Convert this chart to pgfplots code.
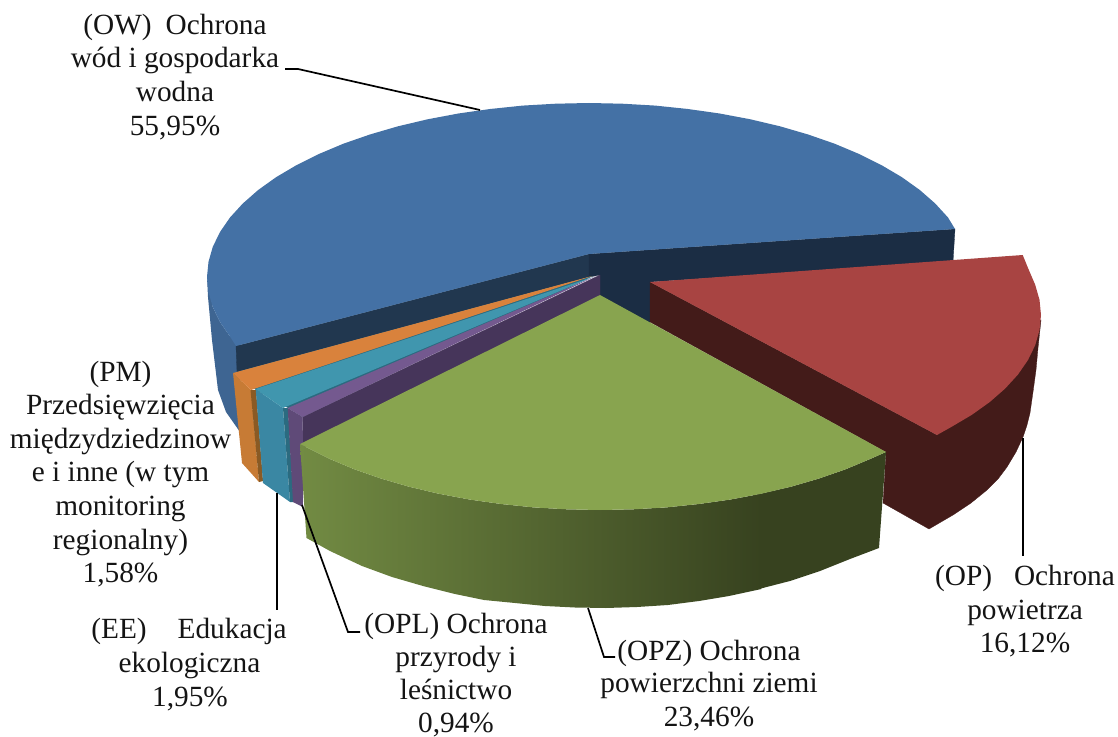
\documentclass[border=0pt]{standalone}
\usepackage{pgfplots}
\pgfplotsset{compat=1.18}
\usepackage{fontspec}
\setmainfont{Liberation Serif}
\definecolor{bluetop}{HTML}{4471A5}
\definecolor{bluewall}{HTML}{3E6592}
\definecolor{bluedk}{HTML}{21374F}
\definecolor{bluedkb}{HTML}{1B2D44}
\definecolor{redtop}{HTML}{A84442}
\definecolor{redwall}{HTML}{431B19}
\definecolor{greentop}{HTML}{88A44F}
\definecolor{greenL}{HTML}{728B43}
\definecolor{greenR}{HTML}{37421F}
\definecolor{ortop}{HTML}{D9823C}
\definecolor{orwall}{HTML}{C77B35}
\definecolor{ordk}{HTML}{8A5A24}
\definecolor{teatop}{HTML}{4096AE}
\definecolor{teawall}{HTML}{3A87A3}
\definecolor{teadk}{HTML}{2B6B80}
\definecolor{putop}{HTML}{74598F}
\definecolor{puwall}{HTML}{5F4A78}
\definecolor{pudk}{HTML}{46355A}
\newcommand\lab[3]{\node[anchor=base,inner sep=0pt,text=black!92,font=\fontsize{29.3}{33}\selectfont] at (axis cs:#1,#2) {#3};}
\begin{document}
\begin{tikzpicture}
\begin{axis}[width=1118pt,height=736pt,scale only axis,axis lines=none,
  xmin=0,xmax=1118,ymin=0,ymax=736,y dir=reverse,clip=false,no markers]
% page extent
\addplot[draw=none] coordinates {(0,0)(1118,0)(1118,736)(0,736)};
% blue outer wall
\addplot[fill=bluewall,draw=none] coordinates {(207,277)(208,297)(212,340)(218,390)(226,412)(240,432)(240,340)(230,336.5)(220,322)(212.8,307.2)} -- cycle;
% blue inner walls
\addplot[fill=bluedk,draw=bluedk,line width=0.3pt] coordinates {(236,346)(589,254)(589,277)(237,372)} -- cycle;
\addplot[fill=bluedkb,draw=bluedkb,line width=0.3pt] coordinates {(589,254)(955,229)(953,262)(650,282)(650,324)(600,297)(600,275)(589,277)} -- cycle;
% blue top
\addplot[fill=bluetop,draw=none] coordinates {(236,346)(230,336.5)(220,322)(212.8,307.2)(208.5,292.2)(207,277)(208.5,261.8)(212.8,246.8)(220,232)(230,217.5)(242.8,203.5)(258.2,190)(276.1,177.2)(296.4,165.2)(318.9,154)(343.4,143.7)(369.9,134.5)(398,126.3)(427.6,119.3)(458.4,113.5)(490.1,109)(522.7,105.6)(555.7,103.7)(589,103)(622.3,103.7)(655.3,105.6)(687.9,109)(719.6,113.5)(750.4,119.3)(780,126.3)(808.1,134.5)(834.6,143.7)(859.1,154)(881.6,165.2)(901.9,177.2)(919.8,190)(935.2,203.5)(948,217.5)(955,229)(589,254)} -- cycle;
% red wall
\addplot[fill=redwall,draw=redwall,line width=0.3pt] coordinates {(650,282)(650,322)(886,452)(883,503)(929,529)(941,522)(953,515)(971,503)(987,490)(998,479)(1007,467)(1016,452)(1023,437)(1027,425)(1030,413)(1033,392)(1036,370)(1038,348)(1041,320)(937,435)} -- cycle;
% red top
\addplot[fill=redtop,draw=none] coordinates {(650,282)(1022.7,255)(1028,268)(1035.2,284.8)(1039.5,299.8)(1041,315)(1039.5,330.2)(1035.2,345.2)(1028,360)(1018,374.5)(1005.2,388.5)(989.8,402)(971.9,414.8)(951.6,426.8)(937,435)} -- cycle;
% base under the narrow wedges
\addplot[fill=teadk,draw=none] coordinates {(233,373)(593,276)(302.7,417)(288,408)(256,390)} -- cycle;
% orange
\addplot[fill=orwall,draw=none] coordinates {(233,373)(251,390)(259,482)(242,463)} -- cycle;
\addplot[fill=ordk,draw=none] coordinates {(250.5,390)(256,390)(263,481)(259,482)} -- cycle;
\addplot[fill=ortop,draw=none] coordinates {(233,373)(592,276)(251,390)} -- cycle;
% teal
\addplot[fill=teawall,draw=none] coordinates {(255.7,389)(283,408)(290,502)(263,483)} -- cycle;
\addplot[fill=teadk,draw=none] coordinates {(283,408)(288,408)(293.5,502)(290,502)} -- cycle;
\addplot[fill=teatop,draw=none] coordinates {(255.7,389)(593,277)(283,408)} -- cycle;
% purple
\addplot[fill=pudk,draw=pudk,line width=0.3pt] coordinates {(302.7,417)(600,275)(600,300)(303,448)} -- cycle;
\addplot[fill=puwall,draw=none] coordinates {(287.7,408)(302.7,417)(303,507)(293,502)} -- cycle;
\addplot[fill=putop,draw=none] coordinates {(287.7,408)(596,276)(302.7,417)} -- cycle;
% green wall
\addplot[fill=greenR,draw=none] coordinates {(755,495)(791,486.7)(819.1,478.5)(845.6,469.3)(870.1,459)(886,452)(879,548)(850,559)(820,571)(790,581)(755,590)} -- cycle;
\addplot[left color=greenL,right color=greenR,draw=none] coordinates {(300,444)(307.4,447.8)(329.9,459)(354.4,469.3)(380.9,478.5)(409,486.7)(438.6,493.7)(469.4,499.5)(501.1,504)(533.7,507.4)(566.7,509.3)(600,510)(633.3,509.3)(666.3,507.4)(698.9,504)(730.6,499.5)(761.4,493.7)(761.4,589)(729,596)(699,601)(668,605)(637,607)(606,608)(575,607.5)(545,606)(515,603)(484,600)(455,594)(423,586)(392,577)(362,566)(330,551)(306.5,538)} -- cycle;
% green top
\addplot[fill=greentop,draw=none] coordinates {(600,295)(886,452)(870.1,459)(845.6,469.3)(819.1,478.5)(791,486.7)(761.4,493.7)(730.6,499.5)(698.9,504)(666.3,507.4)(633.3,509.3)(600,510)(566.7,509.3)(533.7,507.4)(501.1,504)(469.4,499.5)(438.6,493.7)(409,486.7)(380.9,478.5)(354.4,469.3)(329.9,459)(307.4,447.8)(300,444)} -- cycle;
% leader lines
\addplot[black,line width=1.7pt] coordinates {(285,69)(298,69)(480,110)};
\addplot[black,line width=1.7pt] coordinates {(1023,438)(1023,556)};
\addplot[black,line width=1.7pt] coordinates {(588,608)(604,657)(615,657)};
\addplot[black,line width=1.7pt] coordinates {(302,505)(348,632)(360,632)};
\addplot[black,line width=1.7pt] coordinates {(277,493)(277,610)};
% labels
\lab{175}{35}{(OW)\hspace{14pt}Ochrona}
\lab{175}{68}{wód i gospodarka}
\lab{175}{102}{wodna}
\lab{175}{136}{55,95\%}
\lab{120.5}{381}{(PM)}
\lab{120.5}{414}{Przedsięwzięcia}
\lab{120.5}{448}{międzydziedzinow}
\lab{120.5}{481}{e i inne (w tym}
\lab{120.5}{515}{monitoring}
\lab{120.5}{549}{regionalny)}
\lab{120.5}{582}{1,58\%}
\lab{189}{638}{(EE)\hspace{31pt}Edukacja}
\lab{189.5}{672}{ekologiczna}
\lab{190}{706}{1,95\%}
\lab{456}{633}{(OPL) Ochrona}
\lab{456}{666}{przyrody i}
\lab{456}{699}{leśnictwo}
\lab{456}{732}{0,94\%}
\lab{709}{660}{(OPZ) Ochrona}
\lab{709}{692}{powierzchni ziemi}
\lab{709}{726}{23,46\%}
\lab{1025}{585}{(OP)\hspace{22pt}Ochrona}
\lab{1025}{619}{powietrza}
\lab{1025}{652}{16,12\%}
\end{axis}
\end{tikzpicture}
\end{document}
